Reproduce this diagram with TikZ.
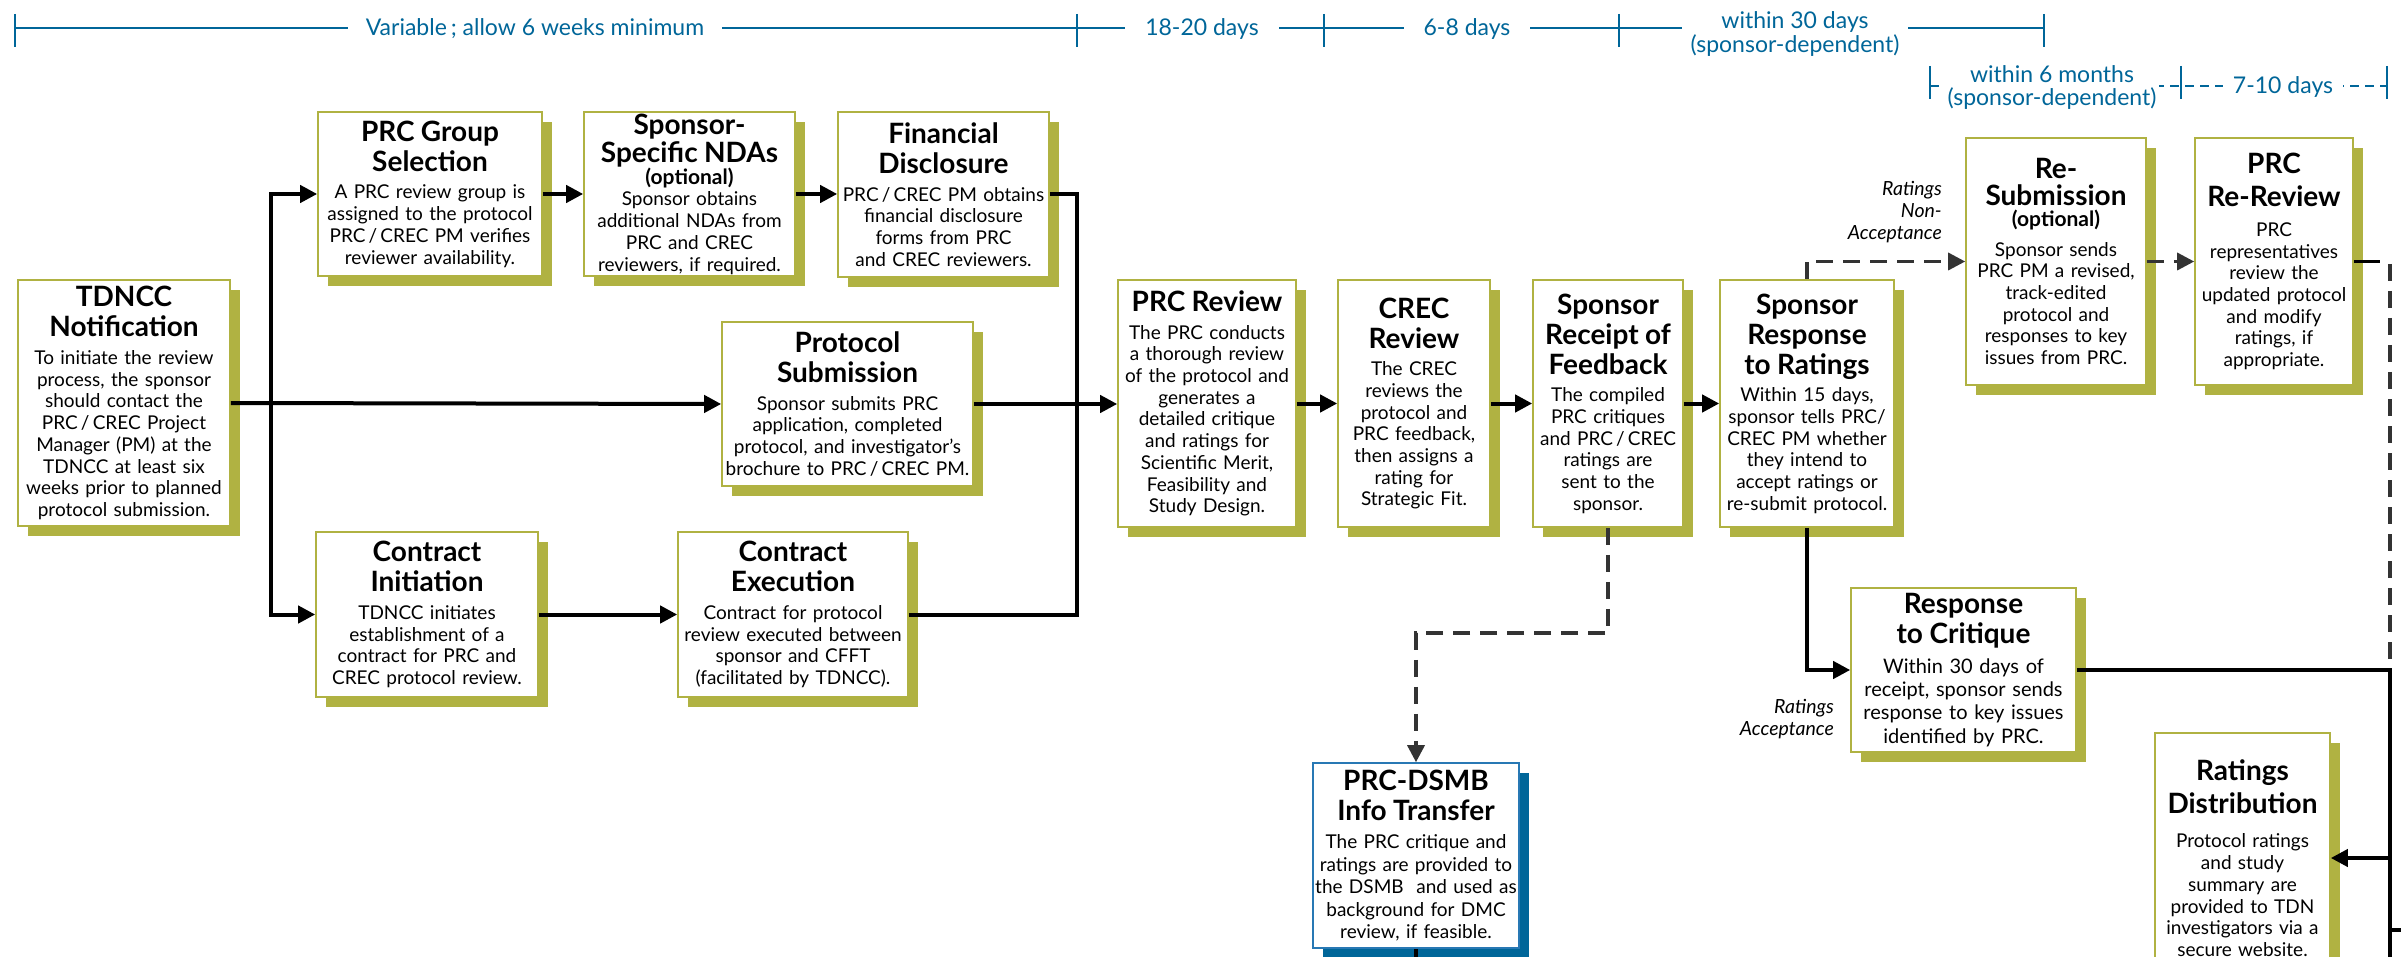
\documentclass[tikz,border=0pt]{standalone}
\usepackage{fontspec}
\setmainfont{Lato}
\usetikzlibrary{arrows.meta,shadows}
\definecolor{boxolive}{RGB}{176,178,66}
\definecolor{tlblue}{RGB}{0,102,153}
\definecolor{dsmbline}{RGB}{40,120,180}
\newcommand\hd[1]{{\fontsize{28}{30}\selectfont\bfseries #1\par}\vspace{6pt}}
\newcommand\opt{{\fontsize{21}{21}\selectfont\bfseries (optional)\par}}
\newcommand\bx[7][box]{%
  \pgfmathsetmacro\bxw{#5-#3}\pgfmathsetmacro\bxh{#6-#4}\pgfmathsetmacro\bxtw{#5-#3-4}%
  \node[#1, minimum width=\bxw pt, minimum height=\bxh pt, text width=\bxtw pt] (#2) at ({(#3+#5)/2},{(#4+#6)/2}) {#7};}
\tikzset{
 boxbase/.style={fill=white, inner xsep=1pt, inner ysep=1pt, align=center, font=\fontsize{19}{21.7}\selectfont},
 box/.style={boxbase, draw=boxolive, line width=1.6pt, general shadow={fill=boxolive, shadow xshift=10pt, shadow yshift=-10pt}},
 bluebox/.style={boxbase, draw=dsmbline, line width=1.6pt, general shadow={fill=tlblue, shadow xshift=10pt, shadow yshift=-10pt}},
 conn/.style={line width=4pt, draw=black},
 arr/.style={conn, -{Triangle[length=17pt,width=17pt]}},
 dsh/.style={line width=3.4pt, draw=black!80, dash pattern=on 17pt off 10pt},
 darr/.style={dsh, -{Triangle[length=17pt,width=17pt]}},
 lbl/.style={font=\itshape\fontsize{19.5}{22}\selectfont, align=right, inner sep=0pt},
 tlline/.style={draw=tlblue, line width=2.6pt},
 tltext/.style={text=tlblue, fill=white, font=\fontsize{23}{24}\selectfont, align=center, inner ysep=1pt},
}
\begin{document}
\begin{tikzpicture}[x=1pt,y=-1pt]
\useasboundingbox (0,0) rectangle (2401,957);
\clip (0,0) rectangle (2401,957);
\fill[white] (0,0) rectangle (2401,957);

% ---- timeline (solid)
\draw[tlline] (15,28) -- (2044,28);
\foreach \x in {15,1077,1324,1619,2044} \draw[tlline] (\x,14) -- (\x,47);
\node[tltext, inner xsep=18pt] (t1) at (535,29) {Variable\,; allow 6 weeks minimum};
\node[tltext, inner xsep=20pt] (t2) at (1202,29) {18-20 days};
\node[tltext, inner xsep=20pt] (t3) at (1467,29) {6-8 days};
\node[tltext, inner xsep=9pt] (t4) at (1795,34) {within 30 days\\(sponsor-dependent)};
% ---- timeline (dashed)
\draw[tlline, dash pattern=on 9pt off 6pt] (1930,86) -- (2387,86);
\foreach \x in {1930,2181,2387} \draw[tlline] (\x,66) -- (\x,99);
\node[tltext, inner xsep=3pt, font=\fontsize{23}{23}\selectfont] (t5) at (2052,88) {within 6 months\\(sponsor-dependent)};
\node[tltext, inner xsep=10pt] (t6) at (2283,87) {7-10 days};

% ---- boxes
\bx{tdncc}{18}{280}{230}{526}{\hd{TDNCC\\Notification}To initiate the review\\process, the sponsor\\should contact the\\PRC\,/\,CREC Project\\Manager (PM) at the\\TDNCC at least six\\weeks prior to planned\\protocol submission.}
\bx{pgs}{318}{112}{542}{276}{\hd{PRC Group\\Selection}A PRC review group is\\assigned to the protocol\\PRC\,/\,CREC PM verifies\\reviewer availability.}
\bx{nda}{584}{112}{795}{276}{{\fontsize{28}{28}\selectfont\bfseries Sponsor-\\Specific NDAs\par}\opt Sponsor obtains\\additional NDAs from\\PRC and CREC\\reviewers, if required.}
\bx{fd}{838}{112}{1049}{277}{\hd{Financial\\Disclosure}PRC\,/\,CREC PM obtains\\financial disclosure\\forms from PRC\\and CREC reviewers.}
\bx{ps}{722}{322}{973}{486}{\hd{Protocol\\Submission}Sponsor submits PRC\\application, completed\\protocol, and investigator’s\\brochure to PRC\,/\,CREC PM.}
\bx{ci}{316}{532}{538}{697}{\hd{Contract\\Initiation}TDNCC initiates\\establishment of a\\contract for PRC and\\CREC protocol review.}
\bx{ce}{678}{532}{908}{697}{\hd{Contract\\Execution}Contract for protocol\\review executed between\\sponsor and CFFT\\(facilitated by TDNCC).}
\bx{prcr}{1118}{280}{1296}{527}{\hd{PRC Review}The PRC conducts\\a thorough review\\of the protocol and\\generates a\\detailed critique\\and ratings for\\Scientific Merit,\\Feasibility and\\Study Design.}
\bx{crec}{1338}{280}{1490}{527}{\hd{CREC\\Review}The CREC\\reviews the\\protocol and\\PRC feedback,\\then assigns a\\rating for\\Strategic Fit.}
\bx{rec}{1533}{280}{1683}{527}{\hd{Sponsor\\Receipt of\\Feedback}The compiled\\PRC critiques\\and PRC\,/\,CREC\\ratings are\\sent to the\\sponsor.}
\bx{resp}{1720}{280}{1894}{527}{\hd{Sponsor\\Response\\to Ratings}Within 15 days,\\sponsor tells PRC/\\CREC PM whether\\they intend to\\accept ratings or\\re-submit protocol.}
\bx{resub}{1966}{138}{2146}{385}{{\fontsize{28}{27}\selectfont\bfseries Re-\\Submission\par}\opt\vspace{8pt}Sponsor sends\\PRC PM a revised,\\track-edited\\protocol and\\responses to key\\issues from PRC.}
\bx{rerev}{2195}{138}{2353}{385}{{\fontsize{28}{33}\selectfont\bfseries PRC\\Re-Review\par}\vspace{8pt}PRC\\representatives\\review the\\updated protocol\\and modify\\ratings, if\\appropriate.}
\bx[box, font=\fontsize{20}{23.3}\selectfont]{rtc}{1851}{588}{2076}{752}{\hd{Response\\to Critique}Within 30 days of\\receipt, sponsor sends\\response to key issues\\identified by PRC.}
\bx[bluebox, font=\fontsize{19}{22.5}\selectfont]{dsmb}{1313}{763}{1519}{948}{\hd{PRC-DSMB\\Info Transfer}The PRC critique and\\ratings are provided to\\the DSMB\ \ and used as\\background for DMC\\review, if feasible.}
\bx{rd}{2155}{733}{2330}{983}{{\fontsize{28}{33}\selectfont\bfseries Ratings\\Distribution\par}\vspace{13pt}Protocol ratings\\and study\\summary are\\provided to TDN\\investigators via a\\secure website.}

% ---- labels
\node[lbl, anchor=east] (lna) at (1942,212) {Ratings\\Non-\\Acceptance};
\node[lbl, anchor=east] (lac) at (1834,719) {Ratings\\Acceptance};

% ---- connectors
\coordinate (j1) at (271,403);
\coordinate (j2) at (1077,403.5);
\draw[arr] (tdncc.east) -- (ps.west);
\draw[arr] (j1) |- (pgs.west);
\draw[arr] (j1) |- (ci.west);
\draw[arr] (pgs.east) -- (nda.west);
\draw[arr] (nda.east) -- (fd.west |- nda.east);
\draw[arr] (ci.east) -- (ce.west);
\draw[conn] (fd.east) -| (j2);
\draw[conn] (ce.east) -| (j2);
\draw[arr] (ps.east) -- (ps.east -| prcr.west);
\draw[arr] (prcr.east) -- (crec.west);
\draw[arr] (crec.east) -- (rec.west);
\draw[arr] (rec.east) -- (resp.west);

\coordinate (dj) at (1608,633);
\draw[darr] (rec.south) -- (dj) -| (dsmb.north);
\coordinate (db) at (1416,990);
\draw[conn] (dsmb.south) -- (db);

\draw[darr] (resp.north) |- (resub.west);
\draw[darr] (resub.east) -- (rerev.west);
\draw[arr] (resp.south) |- (rtc.west);

\coordinate (k0) at (2380,261.5);
\coordinate (k1) at (2390,264);
\coordinate (k2) at (2390,670);
\coordinate (k3) at (2390,930);
\coordinate (k4) at (2420,930);
\coordinate (kb) at (2390,990);
\draw[line width=3.4pt] (rerev.east) -- (k0);
\draw[dsh] (k1) -- (k2);
\draw[conn] (rtc.east) -- (k2) -- (kb);
\draw[conn] (k3) -- (k4);
\draw[arr] (k2 |- rd.east) -- (rd.east);
\end{tikzpicture}
\end{document}
